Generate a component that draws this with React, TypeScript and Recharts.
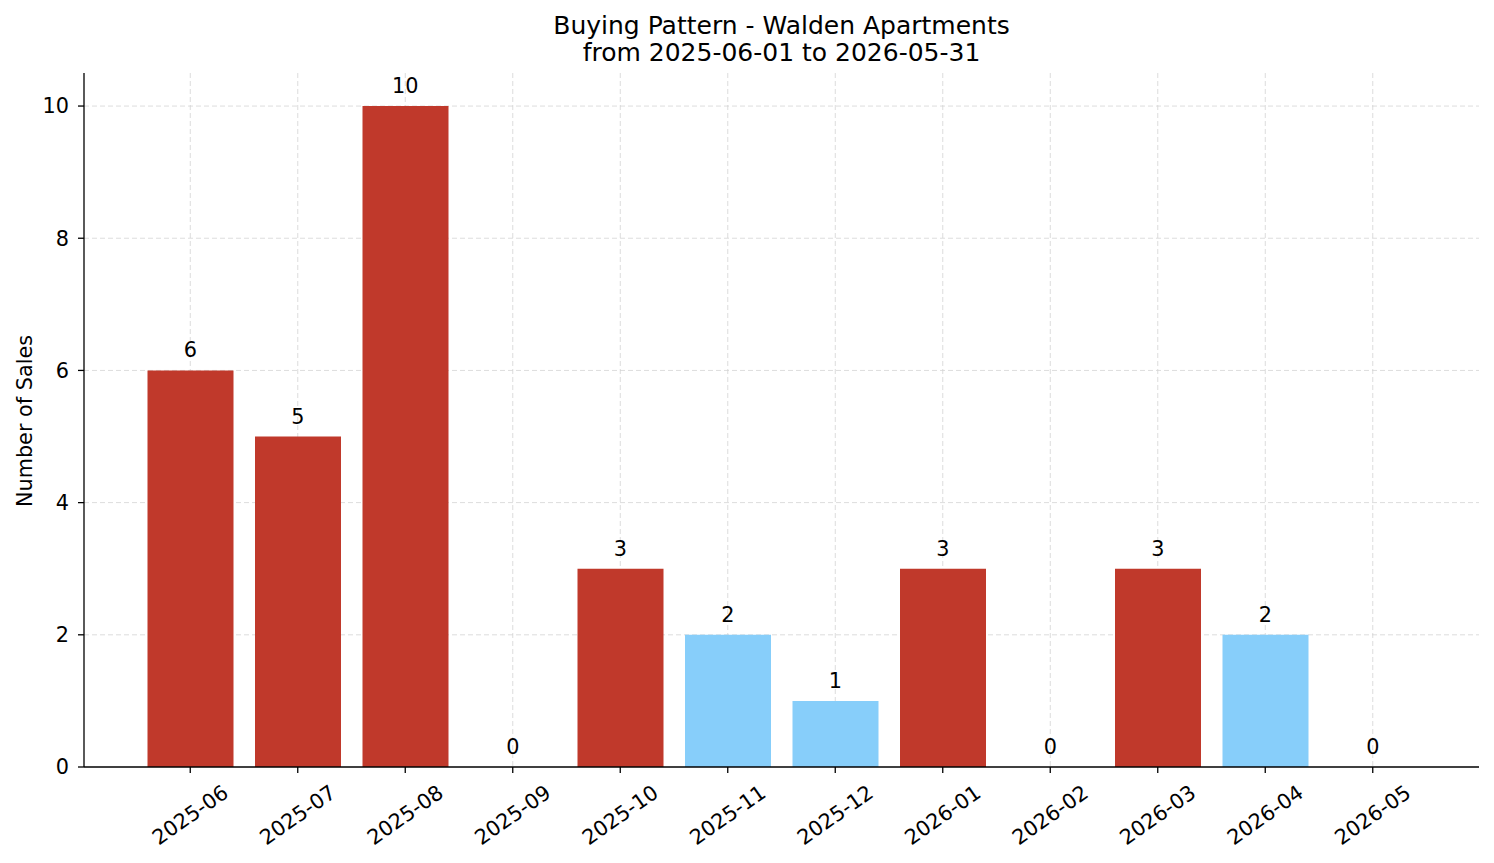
import React from 'react';
import { ComposedChart, Bar, Scatter, XAxis, YAxis, CartesianGrid, Cell } from 'recharts';

const months = ['2025-06', '2025-07', '2025-08', '2025-09', '2025-10', '2025-11', '2025-12', '2026-01', '2026-02', '2026-03', '2026-04', '2026-05'];
const sales = [6, 5, 10, 0, 3, 2, 1, 3, 0, 3, 2, 0];
const yTicks = [0, 2, 4, 6, 8, 10];
const titleLines = ['Buying Pattern - Walden Apartments', 'from 2025-06-01 to 2026-05-31'];
const yLabel = 'Number of Sales';

const RED = '#c0392b';
const BLUE = '#87cefa';
const FONT = '"DejaVu Sans", sans-serif';
const FS = 20.8;

const data = months.map((m, i) => ({ month: m, sales: sales[i] }));
const mean = sales.reduce((a, b) => a + b, 0) / sales.length;

const XTick = (props: any) => {
  const { x, y, payload } = props;
  const cy = y + 42;
  return (
    <text
      x={x}
      y={cy}
      textAnchor="middle"
      dominantBaseline="central"
      transform={`rotate(-35, ${x}, ${cy})`}
      fontSize={FS}
      fontFamily={FONT}
      fill="#000"
    >
      {payload.value}
    </text>
  );
};

const LabelShape = (props: any) => {
  const { cx, cy, payload } = props;
  return (
    <text x={cx} y={cy - 13} textAnchor="middle" fontSize={FS} fontFamily={FONT} fill="#000">
      {payload.sales}
    </text>
  );
};

export default function App() {
  return (
    <div style={{ position: 'absolute', left: 0, top: 0, width: 1494, height: 863, background: '#fff', fontFamily: FONT }}>
      <ComposedChart width={1494} height={863} data={data} margin={{ top: 73, right: 15, left: 0, bottom: 0 }}>
        <XAxis
          dataKey="month"
          interval={0}
          height={96}
          padding={{ left: 52.5, right: 52.5 }}
          tickSize={6}
          tickMargin={0}
          tick={<XTick />}
          axisLine={{ stroke: '#000', strokeWidth: 1.3 }}
          tickLine={{ stroke: '#000', strokeWidth: 1.3 }}
        />
        <YAxis
          width={84}
          domain={[0, 10.5]}
          ticks={yTicks}
          allowDataOverflow
          tickSize={6}
          tickMargin={9}
          tick={{ fontSize: FS, fill: '#000', fontFamily: FONT }}
          axisLine={{ stroke: '#000', strokeWidth: 1.3 }}
          tickLine={{ stroke: '#000', strokeWidth: 1.3 }}
        />
        <Bar dataKey="sales" barSize={86} isAnimationActive={false}>
          {data.map((d, i) => (
            <Cell key={i} fill={d.sales > mean ? RED : BLUE} />
          ))}
        </Bar>
        <CartesianGrid
          strokeDasharray="5 3"
          stroke="#d3d3d3"
          strokeWidth={0.8}
          horizontalValues={yTicks.filter((v) => v > 0)}
          verticalValues={months}
        />
        <Scatter dataKey="sales" isAnimationActive={false} shape={<LabelShape />} />
      </ComposedChart>
      <svg width={1494} height={863} style={{ position: 'absolute', left: 0, top: 0, pointerEvents: 'none' }}>
        <text x={781.5} y={33.5} textAnchor="middle" fontSize={25} fontFamily={FONT} fill="#000">{titleLines[0]}</text>
        <text x={781.5} y={60.5} textAnchor="middle" fontSize={25} fontFamily={FONT} fill="#000">{titleLines[1]}</text>
        <text x={32} y={421} textAnchor="middle" fontSize={FS} fontFamily={FONT} fill="#000" transform="rotate(-90, 32, 421)">{yLabel}</text>
      </svg>
    </div>
  );
}
